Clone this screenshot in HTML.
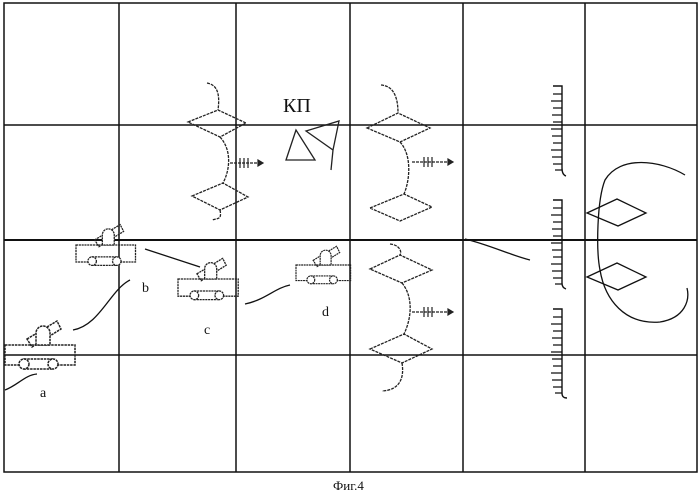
<!DOCTYPE html>
<html><head><meta charset="utf-8"><style>
html,body{margin:0;padding:0;background:#fff;}
svg{display:block;}
text{font-family:"Liberation Serif",serif;fill:#111;}
</style></head><body>
<svg width="700" height="493" viewBox="0 0 700 493" xmlns="http://www.w3.org/2000/svg">
<defs>
<g id="tank" fill="none" stroke="#222" stroke-width="1.5" stroke-dasharray="2.5,0.8">
  <rect x="0" y="0" width="70" height="20"/>
  <polygon points="22,-6 52,-24 56,-16 27,2"/>
  <path d="M31,0 V-12 A7,7 0 0 1 45,-12 V0 Z" fill="#fff"/>
  <rect x="19" y="14" width="29" height="10" fill="#fff"/>
  <circle cx="19" cy="19" r="5" fill="#fff"/>
  <circle cx="48" cy="19" r="5" fill="#fff"/>
</g>
</defs>
<g stroke="#111" fill="none" stroke-width="1.5">
  <rect x="4" y="3" width="693" height="469"/>
  <line x1="119" y1="3" x2="119" y2="472"/>
  <line x1="236" y1="3" x2="236" y2="472"/>
  <line x1="350" y1="3" x2="350" y2="472"/>
  <line x1="463" y1="3" x2="463" y2="472"/>
  <line x1="585" y1="3" x2="585" y2="472"/>
  <line x1="4" y1="125" x2="697" y2="125"/>
  <line x1="4" y1="240" x2="697" y2="240" stroke-width="2"/>
  <line x1="4" y1="355" x2="697" y2="355"/>
</g>
<use href="#tank" transform="translate(5,345)"/>
<use href="#tank" transform="translate(76,245) scale(0.85)"/>
<use href="#tank" transform="translate(178,279) scale(0.86)"/>
<use href="#tank" transform="translate(296,265) scale(0.78)"/>
<g fill="none" stroke="#111" stroke-width="1.3">
  <path d="M145,249 L200,267"/>
  <path d="M73,330 C100,325 110,290 130,280"/>
  <path d="M245,304 C265,300 275,288 290,285"/>
  <path d="M5,390 C18,385 25,375 37,374"/>
  <path d="M465,239 C490,245 510,255 530,260"/>
</g>
<text x="40" y="397" font-size="14">a</text>
<text x="142" y="292" font-size="14">b</text>
<text x="204" y="334" font-size="14">c</text>
<text x="322" y="316" font-size="14">d</text>
<text x="283" y="112" font-size="20">КП</text>
<g fill="none" stroke="#222" stroke-width="1.3">
  <polygon points="296,130 286,160 315,160"/>
  <path d="M306,131 L339,121 L333,150 Z M333,150 L331,170"/>
</g>
<g fill="none" stroke="#222" stroke-width="1.3" stroke-dasharray="3,1">
  <path d="M207,83 C218,85 220,95 218,110"/>
  <polygon points="188,122 218,110 246,123 220,137"/>
  <path d="M220,137 C232,150 230,170 223,183"/>
  <polygon points="192,196 223,183 248,197 220,210"/>
  <path d="M220,210 C222,220 218,218 212,220"/>
  <path d="M230,163 H258"/>
  <path d="M381,85 C395,86 398,100 398,113"/>
  <polygon points="367,128 398,113 430,128 400,142"/>
  <path d="M400,142 C412,155 410,180 404,194"/>
  <polygon points="370,208 404,194 432,207 400,221"/>
  <path d="M412,162 H448"/>
  <path d="M390,244 C400,245 402,252 400,255"/>
  <polygon points="370,269 400,255 432,270 402,283"/>
  <path d="M402,283 C412,295 413,315 404,334"/>
  <polygon points="370,349 404,334 432,349 402,363"/>
  <path d="M402,363 C404,375 402,390 382,391"/>
  <path d="M412,312 H448"/>
</g>
<g fill="#222" stroke="#222" stroke-width="1.2">
  <path d="M258,160 L263,163 L258,166 Z"/>
  <path d="M448,159 L453,162 L448,165 Z"/>
  <path d="M448,309 L453,312 L448,315 Z"/>
  <path d="M240,158 V168 M244,158 V168 M248,158 V168"/>
  <path d="M424,157 V167 M428,157 V167 M432,157 V167"/>
  <path d="M424,307 V317 M428,307 V317 M432,307 V317"/>
</g>
<g fill="none" stroke="#111" stroke-width="1.4">
  <path d="M553,86 H562 V168 C562,172 563,175 566,176"/>
  <path d="M553,200 H562 V283 C562,286 563,288 566,289"/>
  <path d="M553,309 H562 V393 C562,396 563,398 567,398"/>
</g>
<g stroke="#111" stroke-width="1.3">
  <path d="M553,94H562M551,101H562M553,108H562M552,115H562M553,122H562M551,129H562M552,136H562M553,143H562M551,150H562M552,157H562M553,164H562M555,170H562"/>
  <path d="M553,208H562M551,215H562M553,222H562M552,229H562M553,236H562M551,243H562M552,250H562M553,257H562M551,264H562M552,271H562M553,278H562M555,284H562"/>
  <path d="M553,317H562M551,324H562M553,331H562M552,338H562M553,345H562M551,352H562M552,359H562M553,366H562M551,373H562M552,380H562M553,387H562M555,393H562"/>
</g>
<g fill="none" stroke="#111" stroke-width="1.3">
  <path d="M685,175 C660,160 620,155 605,180 C597,200 596,250 600,270 C605,300 625,325 660,322 C685,318 690,300 687,288"/>
  <polygon points="587,213 617,199 646,213 618,226"/>
  <polygon points="587,277 617,263 646,277 618,290"/>
</g>
<text x="333" y="490" font-size="13">Фиг.4</text>
</svg>
</body></html>
